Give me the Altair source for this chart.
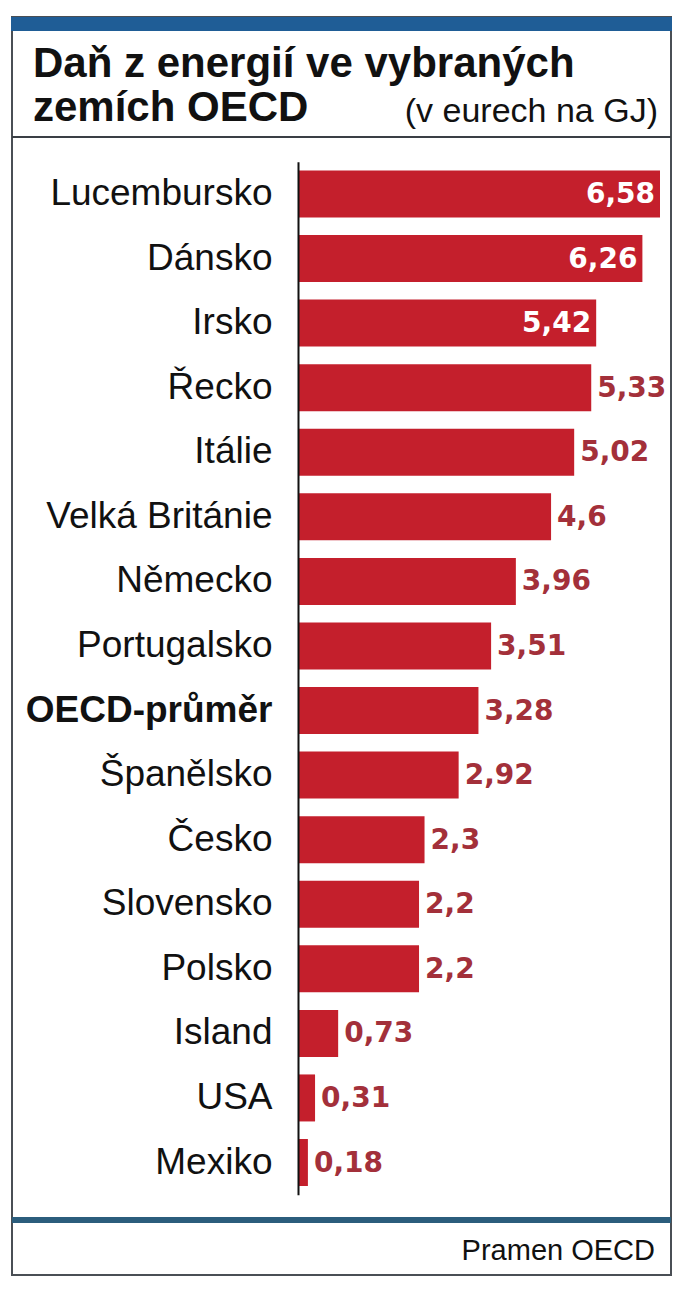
import altair as alt
import pandas as pd

countries = ["Lucembursko", "Dánsko", "Irsko", "Řecko", "Itálie", "Velká Británie",
             "Německo", "Portugalsko", "OECD-průměr", "Španělsko", "Česko",
             "Slovensko", "Polsko", "Island", "USA", "Mexiko"]
values = [6.58, 6.26, 5.42, 5.33, 5.02, 4.6, 3.96, 3.51, 3.28, 2.92, 2.3, 2.2, 2.2, 0.73, 0.31, 0.18]
value_labels = ["6,58", "6,26", "5,42", "5,33", "5,02", "4,6", "3,96", "3,51", "3,28",
                "2,92", "2,3", "2,2", "2,2", "0,73", "0,31", "0,18"]

title_line1 = "Daň z energií ve vybraných"
title_line2 = "zemích OECD"
subtitle = "(v eurech na GJ)"
source = "Pramen OECD"

df = pd.DataFrame({"country": countries, "value": values, "label": value_labels})
one = pd.DataFrame({"k": [0]})

FONT = "Liberation Sans, Arial, sans-serif"
NUMFONT = "DejaVu Sans, Liberation Sans, sans-serif"
BAR = "#c41f2c"
LABEL_RED = "#a3303a"
W, H = 672, 1277

y_enc = alt.Y(
    "country:N", sort=countries, title=None,
    scale=alt.Scale(range=[153.7, 1186.8], paddingInner=0.272, paddingOuter=0.136),
    axis=alt.Axis(
        orient="left", offset=-290, ticks=False, labelPadding=26, zindex=1,
        domainColor="#111111", domainWidth=2,
        labelFont=FONT, labelFontSize=37, labelColor="#111111",
        labelFontWeight={"condition": {"test": "datum.value == 'OECD-průměr'", "value": "bold"},
                         "value": "normal"},
        labelLimit=400,
    ),
)
x_enc = alt.X("value:Q", title=None, axis=None,
              scale=alt.Scale(domain=[0, 6.58], range=[290, 652], nice=False, zero=True))

base = alt.Chart(df)
bars = base.mark_bar(color=BAR).encode(x=x_enc, y=y_enc)

lab_in = base.transform_filter("datum.value >= 5.4").mark_text(
    align="right", baseline="middle", dx=-5, dy=1, font=NUMFONT, fontSize=28, fontWeight="bold",
    color="white").encode(x=x_enc, y=alt.Y("country:N", sort=countries), text="label:N")
lab_out = base.transform_filter("datum.value < 5.4").mark_text(
    align="left", baseline="middle", dx=6, dy=1, font=NUMFONT, fontSize=28, fontWeight="bold",
    color=LABEL_RED).encode(x=x_enc, y=alt.Y("country:N", sort=countries), text="label:N")

deco = alt.Chart(one)
frame = deco.mark_rect(fill="transparent", stroke="#4a4f55", strokeWidth=2).encode(
    x=alt.value(4), x2=alt.value(663), y=alt.value(9), y2=alt.value(1267))
topbar = deco.mark_rect(color="#1f5d96").encode(
    x=alt.value(3), x2=alt.value(664), y=alt.value(9), y2=alt.value(23))
sep = deco.mark_rule(color="#3a3f45", strokeWidth=2).encode(
    x=alt.value(4), x2=alt.value(663), y=alt.value(129))
bottomline = deco.mark_rule(color="#2b5d7c", strokeWidth=6).encode(
    x=alt.value(4), x2=alt.value(663), y=alt.value(1212))

t1 = deco.mark_text(align="left", baseline="alphabetic", font=FONT, fontSize=42,
                    fontWeight="bold", color="#111111", text=title_line1).encode(
    x=alt.value(25), y=alt.value(69))
t2 = deco.mark_text(align="left", baseline="alphabetic", font=FONT, fontSize=42,
                    fontWeight="bold", color="#111111", text=title_line2).encode(
    x=alt.value(25), y=alt.value(113))
st = deco.mark_text(align="right", baseline="alphabetic", font=FONT, fontSize=34,
                    color="#111111", text=subtitle).encode(
    x=alt.value(650), y=alt.value(114))
src = deco.mark_text(align="right", baseline="alphabetic", font=FONT, fontSize=29,
                     color="#111111", text=source).encode(
    x=alt.value(647), y=alt.value(1252))

chart = alt.layer(frame, topbar, sep, bottomline, t1, t2, st, src, bars, lab_in, lab_out).properties(
    width=W, height=H, padding=0,
    autosize=alt.AutoSizeParams(type="none"),
    background="white",
).configure_view(stroke=None)

chart.save("out.html", embed_options={"renderer": "svg", "actions": False})
